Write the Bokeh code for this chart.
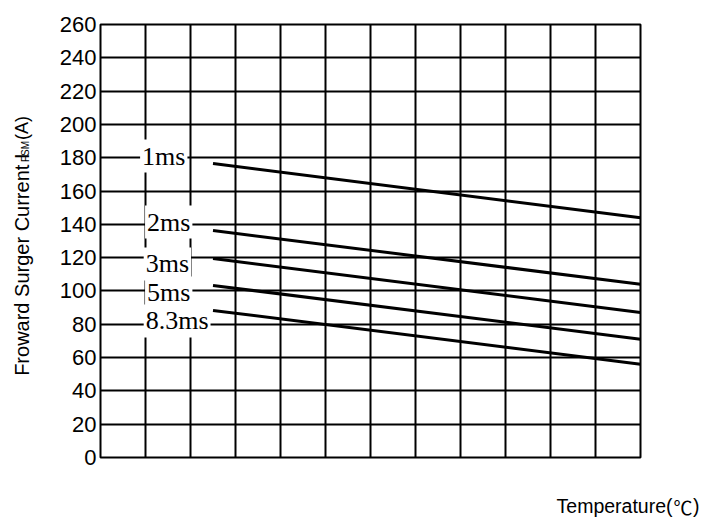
import math
from bokeh.plotting import figure
from bokeh.models import Range1d, FixedTicker, Label
from bokeh.core.properties import value
from bokeh.layouts import row, column
from bokeh.embed import file_html
from bokeh.resources import INLINE

# ---- data ----
x_grid_cols = list(range(0, 13))          # temperature axis grid (no tick labels)
y_ticks = list(range(0, 261, 20))         # current axis ticks (A)
series_names = ["1ms", "2ms", "3ms", "5ms", "8.3ms"]
x_pts = [2.5, 12]                          # start / end of each curve (grid columns)
i_1ms = [176.5, 144]
i_2ms = [136.3, 104]
i_3ms = [119.5, 87]
i_5ms = [103.3, 71]
i_8ms = [88.3, 56]
series_values = [i_1ms, i_2ms, i_3ms, i_5ms, i_8ms]

# label anchor positions (left edge, vertical middle) in data units
label_x = [0.88, 0.99, 0.96, 0.99, 0.96]
label_y = [181.0, 141.4, 116.2, 98.8, 82.0]

TOP_H = 472
BOT_H = 45

# ---- narrow strip holding the rotated y-axis title (pixel coordinates) ----
ylab = figure(width=40, height=TOP_H, output_backend="svg", toolbar_location=None,
              x_range=Range1d(0, 40), y_range=Range1d(TOP_H, 0),
              x_axis_type=None, y_axis_type=None,
              min_border_left=0, min_border_right=0,
              min_border_top=0, min_border_bottom=0)
ylab.grid.visible = False
ylab.outline_line_color = None
ylab.background_fill_color = "white"
ylab.border_fill_color = "white"
for tx, ty, tt, fs in [(21, 383, "Froward Surger Current I", "20px"),
                       (24.5, 150, "FSM", "10px"),
                       (21.5, 126, "(A)", "18px")]:
    ylab.text(x=[tx], y=[ty], text=[tt], angle=math.pi / 2,
              text_font=value("Liberation Sans"), text_font_size=fs,
              text_align="left", text_baseline="middle", text_color="black")

# ---- main chart ----
p = figure(width=672, height=TOP_H, output_backend="svg", toolbar_location=None,
           x_range=Range1d(0, 12), y_range=Range1d(0, 260),
           min_border_left=60, min_border_right=72,
           min_border_top=24, min_border_bottom=TOP_H - 457)
p.background_fill_color = "white"
p.border_fill_color = "white"
p.outline_line_color = "black"
p.outline_line_width = 2
p.outline_line_alpha = 1.0

p.xaxis.visible = False
p.xgrid.ticker = FixedTicker(ticks=x_grid_cols)
p.ygrid.ticker = FixedTicker(ticks=y_ticks)
for g in (p.xgrid, p.ygrid):
    g.grid_line_color = "black"
    g.grid_line_width = 2
    g.grid_line_alpha = 1.0

ya = p.yaxis[0]
ya.ticker = FixedTicker(ticks=y_ticks)
ya.axis_line_color = None
ya.major_tick_line_color = None
ya.minor_tick_line_color = None
ya.major_tick_out = 0
ya.major_tick_in = 0
ya.major_label_standoff = 4
ya.major_label_text_font = "Liberation Sans"
ya.major_label_text_font_size = "22px"
ya.major_label_text_color = "black"

for vals in series_values:
    p.line(x_pts, vals, line_color="black", line_width=3)

for name, lx, ly in zip(series_names, label_x, label_y):
    p.add_layout(Label(x=lx, y=ly, text=name, text_font="Liberation Serif",
                       text_font_size="26px", text_color="black",
                       text_align="left", text_baseline="middle",
                       background_fill_color="white", padding=2))

# ---- bottom strip holding the x-axis title (pixel coordinates) ----
xlab = figure(width=712, height=BOT_H, output_backend="svg", toolbar_location=None,
              x_range=Range1d(0, 712), y_range=Range1d(BOT_H, 0),
              x_axis_type=None, y_axis_type=None,
              min_border_left=0, min_border_right=0,
              min_border_top=0, min_border_bottom=0)
xlab.grid.visible = False
xlab.outline_line_color = None
xlab.background_fill_color = "white"
xlab.border_fill_color = "white"
ymid = 505.5 - TOP_H
xlab.text(x=[672], y=[ymid], text=["Temperature("], text_font=value("Liberation Sans"),
          text_font_size="19.5px", text_align="right", text_baseline="middle",
          text_color="black")
xlab.text(x=[682.5], y=[ymid], text=["℃"], text_font=value("Noto Sans CJK JP"),
          text_font_size="19px", text_align="center", text_baseline="middle",
          text_color="black")
xlab.text(x=[699], y=[ymid], text=[")"], text_font=value("Liberation Sans"),
          text_font_size="19.5px", text_align="right", text_baseline="middle",
          text_color="black")

open("out.html", "w").write(file_html(column(row(ylab, p), xlab), INLINE))
